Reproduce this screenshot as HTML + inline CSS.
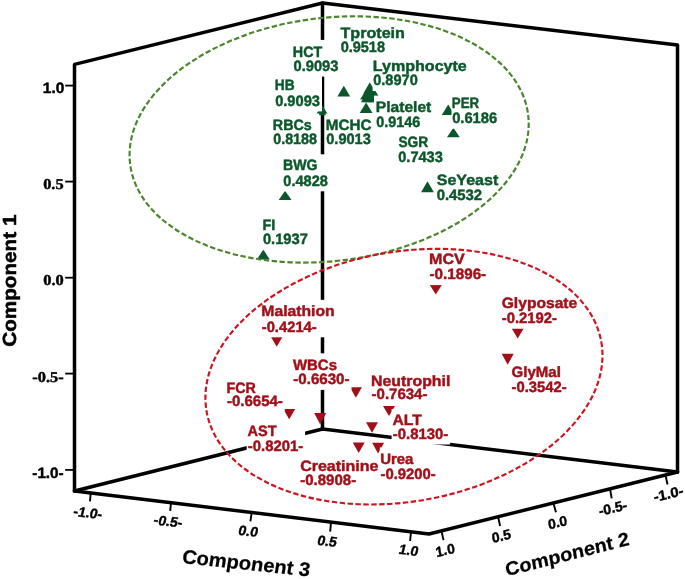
<!DOCTYPE html>
<html><head><meta charset="utf-8"><style>
html,body{margin:0;padding:0;background:#fff;}
svg{display:block;will-change:transform;filter:blur(0.3px);}
text{text-rendering:geometricPrecision;}
</style></head><body>
<svg width="685" height="579" viewBox="0 0 685 579">
<rect width="685" height="579" fill="#fff"/>
<polyline points="74.5,491.0 74.5,64.4 322.5,3.0 677.5,45.0 677.5,472.0" fill="none" stroke="#000" stroke-width="3.5" stroke-linejoin="round" stroke-linecap="round"/>
<polyline points="322.5,3.0 322.5,429.0" fill="none" stroke="#000" stroke-width="3.5" stroke-linejoin="round" stroke-linecap="round"/>
<polyline points="74.5,491.0 322.5,429.0 677.5,472.0" fill="none" stroke="#000" stroke-width="3.5" stroke-linejoin="round" stroke-linecap="round"/>
<polyline points="74.5,491.0 429.0,534.0 677.5,472.0" fill="none" stroke="#000" stroke-width="3.5" stroke-linejoin="round" stroke-linecap="round"/>
<line x1="65.2" y1="85.6" x2="74.5" y2="85.6" stroke="#000" stroke-width="1.8" />
<text transform="translate(42.80,92.90) scale(1.0310,1)" font-size="15" fill="#000" font-family='"Liberation Sans", sans-serif' font-weight="bold"   stroke="#000" stroke-width="0.45">1.0</text>
<line x1="65.2" y1="181.6" x2="74.5" y2="181.6" stroke="#000" stroke-width="1.8" />
<text transform="translate(43.17,188.90) scale(1.0922,1)" font-size="15" fill="#000" font-family='"Liberation Serif", serif' font-weight="bold"   stroke="#000" stroke-width="0.45">0.5</text>
<line x1="65.2" y1="277.7" x2="74.5" y2="277.7" stroke="#000" stroke-width="1.8" />
<text transform="translate(43.17,284.70) scale(1.0969,1)" font-size="15" fill="#000" font-family='"Liberation Serif", serif' font-weight="bold"   stroke="#000" stroke-width="0.45">0.0</text>
<line x1="65.2" y1="373.6" x2="74.5" y2="373.6" stroke="#000" stroke-width="1.8" />
<text transform="translate(32.35,381.50) scale(1.0894,1)" font-size="15" fill="#000" font-family='"Liberation Serif", serif' font-weight="bold"   stroke="#000" stroke-width="0.45">-0.5-</text>
<line x1="65.2" y1="469.9" x2="74.5" y2="469.9" stroke="#000" stroke-width="1.8" />
<text transform="translate(32.32,478.20) scale(1.0152,1)" font-size="15" fill="#000" font-family='"Liberation Sans", sans-serif' font-weight="bold"   stroke="#000" stroke-width="0.45">-1.0-</text>
<polygon points="343.8,85.7 337.40000000000003,96.5 350.2,96.5" fill="#0b572b"/>
<polygon points="369.8,82.3 363.40000000000003,93.5 376.2,93.5" fill="#0b572b"/>
<polygon points="372.8,86.8 366.40000000000003,97.0 379.2,97.0" fill="#0b572b"/>
<polygon points="369.5,88.0 363.1,98.5 375.9,98.5" fill="#0b572b"/>
<polygon points="367.3,91.7 360.90000000000003,102.2 373.7,102.2" fill="#0b572b"/>
<polygon points="371.0,92.0 364.6,102.3 377.4,102.3" fill="#0b572b"/>
<polygon points="366.5,89.0 360.1,99.5 372.9,99.5" fill="#0b572b"/>
<polygon points="366.1,102.4 359.70000000000005,113.0 372.5,113.0" fill="#0b572b"/>
<polygon points="448.2,104.6 441.8,114.9 454.59999999999997,114.9" fill="#0b572b"/>
<polygon points="453.4,127.8 447.0,137.3 459.79999999999995,137.3" fill="#0b572b"/>
<polygon points="427.5,181.3 421.1,192.3 433.9,192.3" fill="#0b572b"/>
<polygon points="285.1,190.8 278.70000000000005,200.0 291.5,200.0" fill="#0b572b"/>
<polygon points="263.3,249.5 256.90000000000003,259.5 269.7,259.5" fill="#0b572b"/>
<polygon points="322.0,104.8 315.6,115.3 328.4,115.3" fill="#0b572b"/>
<polygon points="429.8,285.0 441.8,285.0 435.8,294.6" fill="#a11019"/>
<polygon points="511.70000000000005,328.5 523.7,328.5 517.7,338.6" fill="#a11019"/>
<polygon points="501.7,353.8 513.7,353.8 507.7,364.8" fill="#a11019"/>
<polygon points="270.7,336.4 282.7,336.4 276.7,346.7" fill="#a11019"/>
<polygon points="349.9,387.2 361.9,387.2 355.9,397.7" fill="#a11019"/>
<polygon points="383.0,405.9 395.0,405.9 389.0,416.0" fill="#a11019"/>
<polygon points="283.2,409.1 295.2,409.1 289.2,419.3" fill="#a11019"/>
<polygon points="366.0,422.2 378.0,422.2 372.0,432.7" fill="#a11019"/>
<polygon points="352.7,442.6 364.7,442.6 358.7,453.1" fill="#a11019"/>
<polygon points="372.1,442.8 384.1,442.8 378.1,453.5" fill="#a11019"/>
<rect x="339.4" y="20.7" width="67.1" height="37.1" fill="#fff"/>
<text transform="translate(340.46,37.50) scale(1.0746,1)" font-size="15" fill="#0b572b" font-family='"Liberation Sans", sans-serif' font-weight="bold"   stroke="#0b572b" stroke-width="0.45">Tprotein</text>
<text transform="translate(340.65,52.00) scale(0.9666,1)" font-size="15" fill="#0b572b" font-family='"Liberation Sans", sans-serif' font-weight="bold"   stroke="#0b572b" stroke-width="0.45">0.9518</text>
<rect x="292.5" y="39.9" width="47.9" height="36.7" fill="#fff"/>
<text transform="translate(292.79,57.00) scale(0.9545,1)" font-size="15" fill="#0b572b" font-family='"Liberation Sans", sans-serif' font-weight="bold"   stroke="#0b572b" stroke-width="0.45">HCT</text>
<text transform="translate(293.54,70.80) scale(0.9771,1)" font-size="15" fill="#0b572b" font-family='"Liberation Sans", sans-serif' font-weight="bold"   stroke="#0b572b" stroke-width="0.45">0.9093</text>
<rect x="372.6" y="54.4" width="96.1" height="36.6" fill="#fff"/>
<text transform="translate(372.78,70.60) scale(1.0707,1)" font-size="15" fill="#0b572b" font-family='"Liberation Sans", sans-serif' font-weight="bold"   stroke="#0b572b" stroke-width="0.45">Lymphocyte</text>
<text transform="translate(373.24,85.20) scale(0.9698,1)" font-size="15" fill="#0b572b" font-family='"Liberation Sans", sans-serif' font-weight="bold"   stroke="#0b572b" stroke-width="0.45">0.8970</text>
<rect x="274.5" y="73.2" width="47.5" height="38.2" fill="#fff"/>
<text transform="translate(274.84,90.20) scale(0.9098,1)" font-size="15" fill="#0b572b" font-family='"Liberation Sans", sans-serif' font-weight="bold"   stroke="#0b572b" stroke-width="0.45">HB</text>
<text transform="translate(275.14,105.60) scale(0.9771,1)" font-size="15" fill="#0b572b" font-family='"Liberation Sans", sans-serif' font-weight="bold"   stroke="#0b572b" stroke-width="0.45">0.9093</text>
<rect x="374.0" y="95.6" width="59.6" height="37.4" fill="#fff"/>
<text transform="translate(375.81,112.10) scale(1.0393,1)" font-size="15" fill="#0b572b" font-family='"Liberation Sans", sans-serif' font-weight="bold"   stroke="#0b572b" stroke-width="0.45">Platelet</text>
<text transform="translate(376.25,127.20) scale(0.9592,1)" font-size="15" fill="#0b572b" font-family='"Liberation Sans", sans-serif' font-weight="bold"   stroke="#0b572b" stroke-width="0.45">0.9146</text>
<rect x="451.5" y="91.8" width="47.7" height="36.8" fill="#fff"/>
<text transform="translate(451.86,107.90) scale(0.8849,1)" font-size="15" fill="#0b572b" font-family='"Liberation Sans", sans-serif' font-weight="bold"   stroke="#0b572b" stroke-width="0.45">PER</text>
<text transform="translate(452.14,122.80) scale(0.9816,1)" font-size="15" fill="#0b572b" font-family='"Liberation Sans", sans-serif' font-weight="bold"   stroke="#0b572b" stroke-width="0.45">0.6186</text>
<rect x="272.5" y="113.5" width="46.7" height="36.3" fill="#fff"/>
<text transform="translate(272.79,129.80) scale(0.9547,1)" font-size="15" fill="#0b572b" font-family='"Liberation Sans", sans-serif' font-weight="bold"   stroke="#0b572b" stroke-width="0.45">RBCs</text>
<text transform="translate(273.15,144.00) scale(0.9576,1)" font-size="15" fill="#0b572b" font-family='"Liberation Sans", sans-serif' font-weight="bold"   stroke="#0b572b" stroke-width="0.45">0.8188</text>
<rect x="325.6" y="113.5" width="48.0" height="36.3" fill="#fff"/>
<text transform="translate(325.83,129.80) scale(1.0155,1)" font-size="15" fill="#0b572b" font-family='"Liberation Sans", sans-serif' font-weight="bold"   stroke="#0b572b" stroke-width="0.45">MCHC</text>
<text transform="translate(326.24,144.00) scale(0.9704,1)" font-size="15" fill="#0b572b" font-family='"Liberation Sans", sans-serif' font-weight="bold"   stroke="#0b572b" stroke-width="0.45">0.9013</text>
<rect x="397.6" y="130.1" width="47.2" height="37.8" fill="#fff"/>
<text transform="translate(398.41,146.80) scale(0.9188,1)" font-size="15" fill="#0b572b" font-family='"Liberation Sans", sans-serif' font-weight="bold"   stroke="#0b572b" stroke-width="0.45">SGR</text>
<text transform="translate(398.24,162.10) scale(0.9704,1)" font-size="15" fill="#0b572b" font-family='"Liberation Sans", sans-serif' font-weight="bold"   stroke="#0b572b" stroke-width="0.45">0.7433</text>
<rect x="282.7" y="154.3" width="47.3" height="37.0" fill="#fff"/>
<text transform="translate(283.01,169.80) scale(0.9431,1)" font-size="15" fill="#0b572b" font-family='"Liberation Sans", sans-serif' font-weight="bold"   stroke="#0b572b" stroke-width="0.45">BWG</text>
<text transform="translate(283.34,185.50) scale(0.9710,1)" font-size="15" fill="#0b572b" font-family='"Liberation Sans", sans-serif' font-weight="bold"   stroke="#0b572b" stroke-width="0.45">0.4828</text>
<rect x="436.0" y="168.7" width="64.6" height="37.1" fill="#fff"/>
<text transform="translate(436.74,185.30) scale(1.0690,1)" font-size="15" fill="#0b572b" font-family='"Liberation Sans", sans-serif' font-weight="bold"   stroke="#0b572b" stroke-width="0.45">SeYeast</text>
<text transform="translate(436.63,200.00) scale(0.9922,1)" font-size="15" fill="#0b572b" font-family='"Liberation Sans", sans-serif' font-weight="bold"   stroke="#0b572b" stroke-width="0.45">0.4532</text>
<rect x="262.3" y="213.5" width="47.5" height="36.7" fill="#fff"/>
<text transform="translate(262.59,229.50) scale(0.9581,1)" font-size="15" fill="#0b572b" font-family='"Liberation Sans", sans-serif' font-weight="bold"   stroke="#0b572b" stroke-width="0.45">FI</text>
<text transform="translate(262.94,244.40) scale(0.9787,1)" font-size="15" fill="#0b572b" font-family='"Liberation Sans", sans-serif' font-weight="bold"   stroke="#0b572b" stroke-width="0.45">0.1937</text>
<rect x="428.9" y="247.6" width="59.2" height="37.5" fill="#fff"/>
<text transform="translate(429.08,264.40) scale(1.0682,1)" font-size="15" fill="#a11019" font-family='"Liberation Sans", sans-serif' font-weight="bold"   stroke="#a11019" stroke-width="0.45">MCV</text>
<text transform="translate(429.52,279.30) scale(1.0142,1)" font-size="15" fill="#a11019" font-family='"Liberation Sans", sans-serif' font-weight="bold"   stroke="#a11019" stroke-width="0.45">-0.1896-</text>
<rect x="501.1" y="291.9" width="78.1" height="36.6" fill="#fff"/>
<text transform="translate(501.70,307.90) scale(1.0413,1)" font-size="15" fill="#a11019" font-family='"Liberation Sans", sans-serif' font-weight="bold"   stroke="#a11019" stroke-width="0.45">Glyposate</text>
<text transform="translate(501.73,322.70) scale(0.9904,1)" font-size="15" fill="#a11019" font-family='"Liberation Sans", sans-serif' font-weight="bold"   stroke="#a11019" stroke-width="0.45">-0.2192-</text>
<rect x="261.1" y="299.8" width="75.1" height="37.5" fill="#fff"/>
<text transform="translate(261.30,316.40) scale(1.0477,1)" font-size="15" fill="#a11019" font-family='"Liberation Sans", sans-serif' font-weight="bold"   stroke="#a11019" stroke-width="0.45">Malathion</text>
<text transform="translate(261.73,331.50) scale(0.9849,1)" font-size="15" fill="#a11019" font-family='"Liberation Sans", sans-serif' font-weight="bold"   stroke="#a11019" stroke-width="0.45">-0.4214-</text>
<rect x="510.9" y="360.9" width="57.7" height="37.0" fill="#fff"/>
<text transform="translate(511.52,376.90) scale(1.0021,1)" font-size="15" fill="#a11019" font-family='"Liberation Sans", sans-serif' font-weight="bold"   stroke="#a11019" stroke-width="0.45">GlyMal</text>
<text transform="translate(511.53,392.10) scale(0.9867,1)" font-size="15" fill="#a11019" font-family='"Liberation Sans", sans-serif' font-weight="bold"   stroke="#a11019" stroke-width="0.45">-0.3542-</text>
<rect x="291.7" y="353.3" width="59.8" height="36.6" fill="#fff"/>
<text transform="translate(292.93,370.10) scale(0.9971,1)" font-size="15" fill="#a11019" font-family='"Liberation Sans", sans-serif' font-weight="bold"   stroke="#a11019" stroke-width="0.45">WBCs</text>
<text transform="translate(293.22,384.10) scale(1.0087,1)" font-size="15" fill="#a11019" font-family='"Liberation Sans", sans-serif' font-weight="bold"   stroke="#a11019" stroke-width="0.45">-0.6630-</text>
<rect x="370.9" y="368.6" width="80.8" height="36.1" fill="#fff"/>
<text transform="translate(371.10,385.50) scale(1.0558,1)" font-size="15" fill="#a11019" font-family='"Liberation Sans", sans-serif' font-weight="bold"   stroke="#a11019" stroke-width="0.45">Neutrophil</text>
<text transform="translate(371.52,398.90) scale(1.0014,1)" font-size="15" fill="#a11019" font-family='"Liberation Sans", sans-serif' font-weight="bold"   stroke="#a11019" stroke-width="0.45">-0.7634-</text>
<rect x="226.3" y="376.1" width="58.5" height="35.7" fill="#fff"/>
<text transform="translate(226.60,392.60) scale(0.9492,1)" font-size="15" fill="#a11019" font-family='"Liberation Sans", sans-serif' font-weight="bold"   stroke="#a11019" stroke-width="0.45">FCR</text>
<text transform="translate(226.92,406.00) scale(1.0014,1)" font-size="15" fill="#a11019" font-family='"Liberation Sans", sans-serif' font-weight="bold"   stroke="#a11019" stroke-width="0.45">-0.6654-</text>
<rect x="391.6" y="409.0" width="58.5" height="35.5" fill="#fff"/>
<text transform="translate(392.43,424.90) scale(1.0445,1)" font-size="15" fill="#a11019" font-family='"Liberation Sans", sans-serif' font-weight="bold"   stroke="#a11019" stroke-width="0.45">ALT</text>
<text transform="translate(392.83,438.70) scale(0.9904,1)" font-size="15" fill="#a11019" font-family='"Liberation Sans", sans-serif' font-weight="bold"   stroke="#a11019" stroke-width="0.45">-0.8130-</text>
<rect x="246.7" y="419.6" width="58.4" height="36.9" fill="#fff"/>
<text transform="translate(247.56,436.30) scale(0.9720,1)" font-size="15" fill="#a11019" font-family='"Liberation Sans", sans-serif' font-weight="bold"   stroke="#a11019" stroke-width="0.45">AST</text>
<text transform="translate(247.83,450.70) scale(0.9904,1)" font-size="15" fill="#a11019" font-family='"Liberation Sans", sans-serif' font-weight="bold"   stroke="#a11019" stroke-width="0.45">-0.8201-</text>
<rect x="299.6" y="454.3" width="80.8" height="36.1" fill="#fff"/>
<text transform="translate(300.18,470.80) scale(1.0668,1)" font-size="15" fill="#a11019" font-family='"Liberation Sans", sans-serif' font-weight="bold"   stroke="#a11019" stroke-width="0.45">Creatinine</text>
<text transform="translate(300.22,484.60) scale(1.0014,1)" font-size="15" fill="#a11019" font-family='"Liberation Sans", sans-serif' font-weight="bold"   stroke="#a11019" stroke-width="0.45">-0.8908-</text>
<rect x="379.8" y="447.5" width="57.9" height="37.2" fill="#fff"/>
<text transform="translate(380.13,463.80) scale(0.9977,1)" font-size="15" fill="#a11019" font-family='"Liberation Sans", sans-serif' font-weight="bold"   stroke="#a11019" stroke-width="0.45">Urea</text>
<text transform="translate(380.43,478.90) scale(0.9904,1)" font-size="15" fill="#a11019" font-family='"Liberation Sans", sans-serif' font-weight="bold"   stroke="#a11019" stroke-width="0.45">-0.9200-</text>
<polygon points="314.2,413.1 326.2,413.1 320.2,424.5" fill="#a11019"/>
<ellipse cx="329.13" cy="139.44" rx="200.53" ry="121.57" transform="rotate(-7.07 329.13 139.44)" fill="none" stroke="#4a852c" stroke-width="2.15" stroke-dasharray="5.4 2.5"/>
<ellipse cx="403.95" cy="376.64" rx="200.4" ry="124.9" transform="rotate(-10.0 403.95 376.64)" fill="none" stroke="#cc1420" stroke-width="2.15" stroke-dasharray="5.4 2.5"/>
<line x1="90.7" y1="493.0" x2="90.0" y2="501.3" stroke="#000" stroke-width="1.9" />
<line x1="171.0" y1="502.8" x2="170.2" y2="510.8" stroke="#000" stroke-width="1.9" />
<line x1="251.7" y1="512.5" x2="250.4" y2="521.3" stroke="#000" stroke-width="1.9" />
<line x1="331.0" y1="522.2" x2="330.2" y2="531.6" stroke="#000" stroke-width="1.9" />
<line x1="411.0" y1="532.0" x2="410.1" y2="541.0" stroke="#000" stroke-width="1.9" />
<line x1="441.4" y1="530.8" x2="443.5" y2="540.1" stroke="#000" stroke-width="1.9" />
<line x1="498.1" y1="516.8" x2="500.1" y2="526.0" stroke="#000" stroke-width="1.9" />
<line x1="553.3" y1="503.0" x2="556.0" y2="512.2" stroke="#000" stroke-width="1.9" />
<line x1="610.0" y1="489.0" x2="611.7" y2="498.3" stroke="#000" stroke-width="1.9" />
<line x1="665.5" y1="475.0" x2="667.5" y2="484.5" stroke="#000" stroke-width="1.9" />
<text transform="matrix(0.9936,0.1132,-0.2419,0.9703,72.60,515.85)" font-size="14" font-family='"Liberation Sans", sans-serif' font-weight="bold" fill="#000" stroke="#000" stroke-width="0.4">-1.0-</text>
<text transform="matrix(0.9936,0.1132,-0.2419,0.9703,152.80,524.35)" font-size="14" font-family='"Liberation Sans", sans-serif' font-weight="bold" fill="#000" stroke="#000" stroke-width="0.4">-0.5-</text>
<text transform="matrix(0.9936,0.1132,-0.2419,0.9703,237.56,534.79)" font-size="14" font-family='"Liberation Sans", sans-serif' font-weight="bold" fill="#000" stroke="#000" stroke-width="0.4">0.0</text>
<text transform="matrix(0.9936,0.1132,-0.2419,0.9703,316.46,544.77)" font-size="14" font-family='"Liberation Sans", sans-serif' font-weight="bold" fill="#000" stroke="#000" stroke-width="0.4">0.5</text>
<text transform="matrix(0.9936,0.1132,-0.2419,0.9703,398.02,553.87)" font-size="14" font-family='"Liberation Sans", sans-serif' font-weight="bold" fill="#000" stroke="#000" stroke-width="0.4">1.0</text>
<text transform="matrix(0.9724,-0.2334,0.1736,0.9848,436.54,557.16)" font-size="14" font-family='"Liberation Sans", sans-serif' font-weight="bold" fill="#000" stroke="#000" stroke-width="0.4">1.0</text>
<text transform="matrix(0.9724,-0.2334,0.1736,0.9848,492.68,542.95)" font-size="14" font-family='"Liberation Sans", sans-serif' font-weight="bold" fill="#000" stroke="#000" stroke-width="0.4">0.5</text>
<text transform="matrix(0.9724,-0.2334,0.1736,0.9848,548.98,529.43)" font-size="14" font-family='"Liberation Sans", sans-serif' font-weight="bold" fill="#000" stroke="#000" stroke-width="0.4">0.0</text>
<text transform="matrix(0.9724,-0.2334,0.1736,0.9848,599.82,516.02)" font-size="14" font-family='"Liberation Sans", sans-serif' font-weight="bold" fill="#000" stroke="#000" stroke-width="0.4">-0.5-</text>
<text transform="matrix(1.0307,-0.2475,0.1736,0.9848,654.48,502.12)" font-size="14" font-family='"Liberation Sans", sans-serif' font-weight="bold" fill="#000" stroke="#000" stroke-width="0.4">-1.0-</text>
<text transform="matrix(1.0244,0.1077,-0.1564,0.9877,181.38,563.01)" font-size="19.5" font-family='"Liberation Sans", sans-serif' font-weight="bold" fill="#000" stroke="#000" stroke-width="0.25">Component 3</text>
<text transform="matrix(1.0175,-0.2593,0.1736,0.9848,506.54,576.33)" font-size="19" font-family='"Liberation Sans", sans-serif' font-weight="bold" fill="#000" stroke="#000" stroke-width="0.25">Component 2</text>
<text transform="translate(16.30,346.73) rotate(-90) scale(1.0884,1)" font-size="19" font-family='"Liberation Sans", sans-serif' font-weight="bold" fill="#000" stroke="#000" stroke-width="0.5">Component 1</text>
</svg>
</body></html>
